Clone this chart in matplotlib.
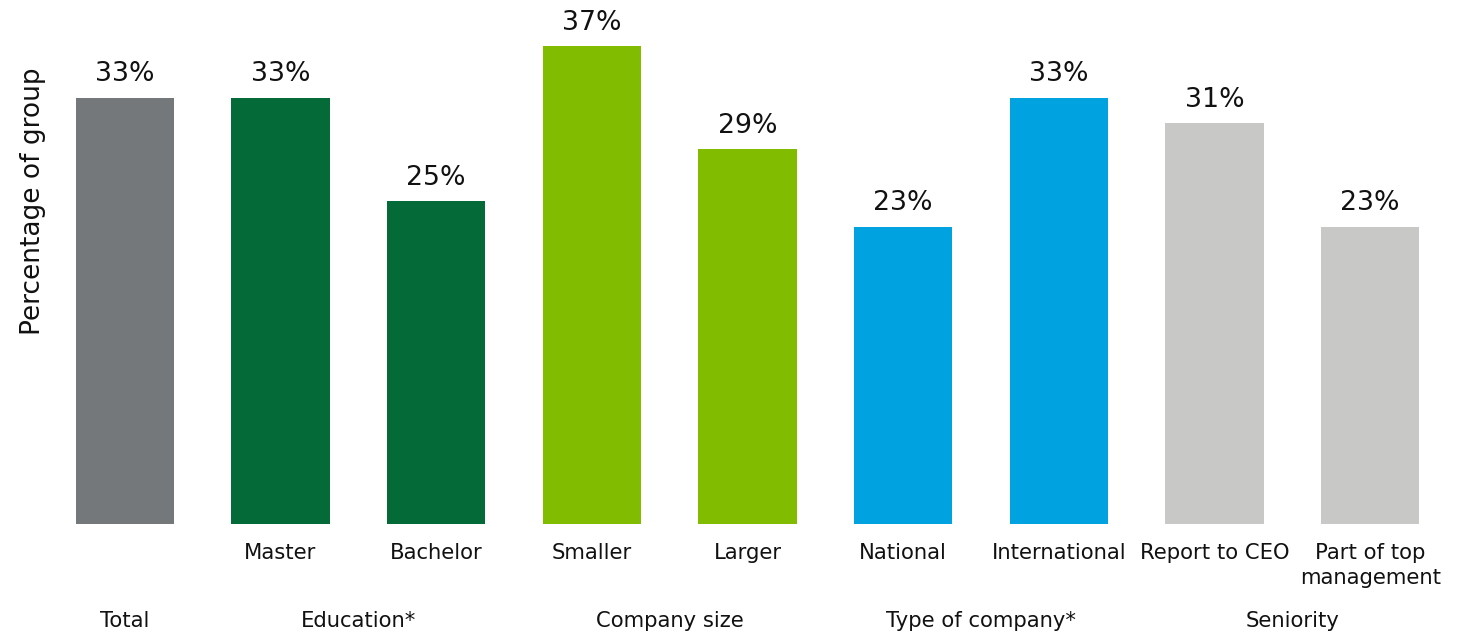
import matplotlib
matplotlib.use("Agg")
import matplotlib.pyplot as plt
from matplotlib.transforms import blended_transform_factory

# Share of each group, in percent
categories = ["", "Master", "Bachelor", "Smaller", "Larger", "National",
              "International", "Report to CEO", "Part of top\nmanagement"]
values = [33, 33, 25, 37, 29, 23, 33, 31, 23]
groups = ["Total", "Education*", "Company size", "Type of company*", "Seniority"]
group_members = [[0], [1, 2], [3, 4], [5, 6], [7, 8]]
group_colors = ["#75787B", "#046A38", "#82BC00", "#00A3E0", "#C8C9C7"]

W, H = 1468, 634
fig = plt.figure(figsize=(W / 100, H / 100), dpi=100)
plt.rcParams["font.family"] = ["DejaVu Sans"]

# axes placed so that the baseline sits near the bottom, leaving room for two label rows
ax = fig.add_axes([47 / W, (H - 524) / H, 1401 / W, 516.8 / H])

colors = [None] * len(values)
for members, c in zip(group_members, group_colors):
    for i in members:
        colors[i] = c

x = list(range(len(values)))
bars = ax.bar(x, values, width=0.63, color=colors, linewidth=0)

for rect, v in zip(bars, values):
    ax.annotate(f"{v}%", (rect.get_x() + rect.get_width() / 2, rect.get_height()),
                xytext=(0, 7.5), textcoords="offset points",
                ha="center", va="bottom", fontsize=19.3, color="#111111")

ax.set_xlim(-0.5, 8.5)
ax.set_ylim(0, 40)
ax.axis("off")

trans = blended_transform_factory(ax.transData, fig.transFigure)
for i, lab in enumerate(categories):
    if lab:
        ax.text(i, 1 - 543 / H, lab, transform=trans, ha="center", va="top",
                fontsize=15.2, color="#111111", linespacing=1.3)

for g, members in zip(groups, group_members):
    cx = sum(members) / len(members)
    ax.text(cx, 1 - 621 / H, g, transform=trans, ha="center", va="center",
            fontsize=15.2, color="#111111")

fig.text(33 / W, 1 - 201 / H, "Percentage of group", rotation=90,
         ha="center", va="center", fontsize=19, color="#111111")

fig.savefig("out.png", dpi=100, facecolor="white")
